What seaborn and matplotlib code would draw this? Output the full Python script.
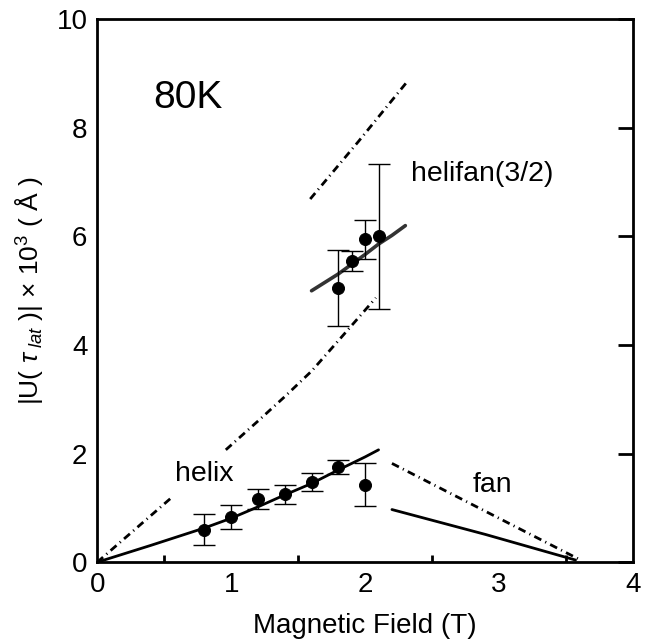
import numpy as np
import pandas as pd
import seaborn as sns
from matplotlib import pyplot as plt
from matplotlib.ticker import MultipleLocator

# measured amplitudes (T, |U| x 10^3 A) with error bars
helix_x = [0.8, 1.0, 1.2, 1.4, 1.6, 1.8, 2.0]
helix_y = [0.60, 0.84, 1.16, 1.25, 1.48, 1.76, 1.43]
helix_err = [0.28, 0.22, 0.18, 0.18, 0.17, 0.13, 0.39]

helifan_x = [1.8, 1.9, 2.0, 2.1]
helifan_y = [5.06, 5.55, 5.95, 6.00]
helifan_err = [0.70, 0.19, 0.36, 1.34]

# calculated curves
helix_fit_x = [0.0, 0.4, 0.8, 1.0, 1.2, 1.4, 1.6, 1.8, 2.0, 2.1]
helix_fit_y = [0.0, 0.31, 0.63, 0.81, 1.02, 1.24, 1.45, 1.70, 1.94, 2.07]
helix_dd1_x = [0.0, 0.55]
helix_dd1_y = [0.0, 1.18]
helix_dd2_x = [0.96, 1.2, 1.4, 1.6, 1.8, 2.08]
helix_dd2_y = [2.07, 2.60, 3.05, 3.52, 4.08, 4.87]
helifan_fit_x = [1.6, 1.8, 2.0, 2.1, 2.2, 2.3]
helifan_fit_y = [5.0, 5.31, 5.67, 5.86, 6.02, 6.2]
helifan_dd_x = [1.59, 1.95, 2.31]
helifan_dd_y = [6.69, 7.75, 8.84]
fan_fit_x = [2.2, 2.9, 3.57]
fan_fit_y = [0.97, 0.51, 0.04]
fan_dd_x = [2.2, 3.6]
fan_dd_y = [1.82, 0.05]

sns.set_style("white")
plt.rcParams['font.family'] = ['Liberation Sans', 'DejaVu Sans']
plt.rcParams['text.color'] = 'k'
plt.rcParams['axes.labelcolor'] = 'k'
plt.rcParams['xtick.color'] = 'k'
plt.rcParams['ytick.color'] = 'k'
plt.rcParams['mathtext.fontset'] = 'custom'
plt.rcParams['mathtext.rm'] = 'Liberation Sans'
plt.rcParams['mathtext.it'] = 'Liberation Sans:italic'

fig = plt.figure(figsize=(6.48, 6.44), dpi=100)
ax = fig.add_axes([0.150, 0.127, 0.827, 0.843])

dd = (0, (2.8, 1.6, 0.4, 1.6))
sns.lineplot(x=helix_fit_x, y=helix_fit_y, ax=ax, color='k', lw=2)
sns.lineplot(x=helifan_fit_x, y=helifan_fit_y, ax=ax, color='#333333', lw=2.6)
sns.lineplot(x=fan_fit_x, y=fan_fit_y, ax=ax, color='k', lw=2)
for xs, ys in [(helix_dd1_x, helix_dd1_y), (helix_dd2_x, helix_dd2_y),
               (helifan_dd_x, helifan_dd_y), (fan_dd_x, fan_dd_y)]:
    sns.lineplot(x=xs, y=ys, ax=ax, color='k', lw=2, linestyle=dd)

pts = pd.DataFrame({'B': helix_x + helifan_x, 'U': helix_y + helifan_y,
                    'err': helix_err + helifan_err})
ax.errorbar(pts['B'], pts['U'], yerr=pts['err'], fmt='none', ecolor='k',
            elinewidth=1, capsize=8, capthick=1)
sns.scatterplot(data=pts, x='B', y='U', ax=ax, color='k', s=75,
                edgecolor='k', zorder=5)

ax.text(0.42, 8.37, '80K', fontsize=28)
ax.text(2.34, 7.02, 'helifan(3/2)', fontsize=20.5)
ax.text(0.58, 1.50, 'helix', fontsize=20.5)
ax.text(2.80, 1.29, 'fan', fontsize=20.5)

ax.set_xlim(0, 4)
ax.set_ylim(0, 10)
ax.xaxis.set_major_locator(MultipleLocator(1))
ax.xaxis.set_minor_locator(MultipleLocator(0.5))
ax.yaxis.set_major_locator(MultipleLocator(2))
ax.tick_params(which='major', direction='in', length=11, width=2,
               labelsize=20, right=True, pad=7)
ax.tick_params(which='minor', direction='in', length=5, width=2, bottom=True)
for s in ax.spines.values():
    s.set_linewidth(2)
    s.set_color('k')

ax.set_xlabel('Magnetic Field (T)', fontsize=20, labelpad=11)
ax.set_ylabel(r'|U( $\tau_{\ lat}$ )| $\times$ 10$^3$ ( Å )', fontsize=19,
              labelpad=8)

fig.savefig('out.png', dpi=100)
